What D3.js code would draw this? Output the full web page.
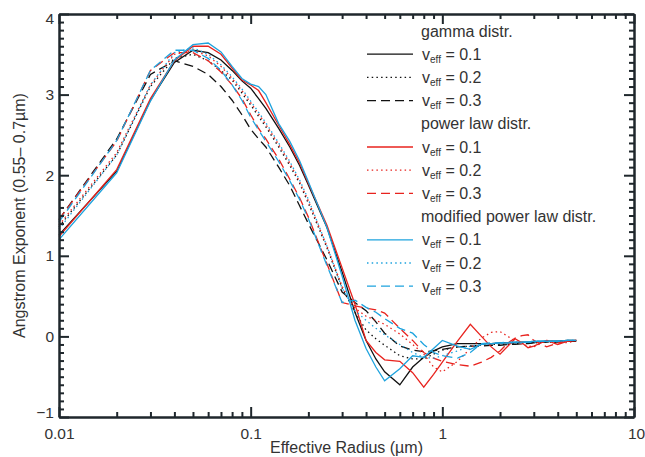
<!DOCTYPE html>
<html>
<head>
<meta charset="utf-8">
<title>Angstrom Exponent vs Effective Radius</title>
<script src="https://cdnjs.cloudflare.com/ajax/libs/d3/7.8.5/d3.min.js"></script>
<style>
  body { margin: 0; background: #fff; }
  svg text { font-family: "Liberation Sans", Arial, sans-serif; fill: #333; }
  .ax path, .ax line { stroke: #1f272c; stroke-width: 2; }
</style>
</head>
<body>
<svg id="chart" width="645" height="457"></svg>
<script>
// effective radius grid (µm)
const radii = [0.01,0.02,0.03,0.04,0.05,0.06,0.07,0.08,0.09,0.1,0.11,0.12,0.14,0.16,0.18,0.2,
  0.25,0.3,0.35,0.4,0.45,0.5,0.6,0.7,0.8,0.9,1.0,1.2,1.4,1.6,1.8,2.0,2.2,2.4,2.6,2.8,3.0,3.5,4.0,4.5,5.0];

// angstrom exponent
const gamma1 = [1.26,2.05,2.93,3.4,3.55,3.52,3.43,3.3,3.17,3.08,2.95,2.83,2.58,2.35,2.12,1.88,
  1.35,0.8,0.3,-0.05,-0.28,-0.44,-0.6,-0.38,-0.26,-0.18,-0.13,-0.09,-0.09,-0.09,-0.09,-0.08,-0.08,-0.08,-0.07,-0.07,-0.07,-0.06,-0.06,-0.05,-0.05];
const gamma2 = [1.36,2.25,3.1,3.45,3.5,3.42,3.3,3.18,3.02,2.87,2.73,2.6,2.35,2.12,1.9,1.65,
  1.1,0.6,0.3,0.08,-0.03,-0.11,-0.24,-0.28,-0.28,-0.22,-0.17,-0.13,-0.12,-0.11,-0.1,-0.1,-0.1,-0.09,-0.09,-0.08,-0.08,-0.07,-0.07,-0.06,-0.06];
const gamma3 = [1.45,2.45,3.25,3.42,3.35,3.25,3.1,2.93,2.75,2.57,2.45,2.35,2.1,1.87,1.62,1.4,
  0.95,0.55,0.42,0.32,0.18,0.04,-0.12,-0.17,-0.19,-0.18,-0.16,-0.13,-0.12,-0.12,-0.11,-0.11,-0.1,-0.1,-0.09,-0.09,-0.08,-0.07,-0.07,-0.06,-0.06];

const power1 = [1.24,2.07,2.95,3.42,3.6,3.6,3.5,3.33,3.18,3.12,3.05,2.9,2.62,2.38,2.15,1.9,
  1.38,0.85,0.4,-0.05,-0.2,-0.29,-0.31,-0.45,-0.63,-0.47,-0.32,-0.06,0.15,0.0,-0.13,-0.22,-0.12,-0.03,-0.08,-0.14,-0.12,-0.05,-0.1,-0.06,-0.05];
const power2 = [1.38,2.28,3.12,3.5,3.55,3.48,3.35,3.2,3.05,2.9,2.76,2.63,2.38,2.15,1.92,1.68,
  1.12,0.62,0.35,0.25,0.2,0.15,0.03,-0.1,-0.22,-0.38,-0.44,-0.31,-0.15,-0.02,0.05,0.06,0.0,-0.06,-0.1,-0.12,-0.13,-0.05,-0.06,-0.08,-0.05];
const power3 = [1.45,2.42,3.3,3.52,3.52,3.42,3.28,3.12,2.95,2.75,2.58,2.45,2.2,1.95,1.72,1.48,
  0.9,0.42,0.38,0.35,0.33,0.29,0.1,-0.05,-0.2,-0.27,-0.31,-0.35,-0.37,-0.32,-0.26,-0.18,-0.08,-0.02,0.01,0.02,-0.05,-0.13,-0.08,-0.06,-0.05];

const modified1 = [1.2,2.03,2.92,3.43,3.62,3.64,3.53,3.35,3.2,3.13,3.1,3.0,2.64,2.42,2.18,1.92,
  1.35,0.75,0.2,-0.15,-0.38,-0.55,-0.4,-0.24,-0.26,-0.15,-0.05,-0.12,-0.16,-0.1,-0.09,-0.08,-0.08,-0.07,-0.07,-0.07,-0.06,-0.06,-0.06,-0.05,-0.05];
const modified2 = [1.33,2.25,3.12,3.52,3.58,3.5,3.37,3.22,3.07,2.92,2.78,2.65,2.4,2.17,1.94,1.7,
  1.12,0.6,0.32,0.2,0.1,0.02,-0.1,-0.2,-0.26,-0.27,-0.24,-0.18,-0.12,-0.1,-0.09,-0.09,-0.08,-0.08,-0.08,-0.07,-0.07,-0.06,-0.06,-0.05,-0.05];
const modified3 = [1.42,2.43,3.3,3.55,3.55,3.45,3.3,3.12,2.93,2.72,2.56,2.42,2.17,1.93,1.7,1.46,
  0.88,0.42,0.45,0.36,0.3,0.22,0.1,0.04,-0.1,-0.2,-0.24,-0.27,-0.2,-0.09,-0.08,-0.08,-0.07,-0.07,-0.07,-0.07,-0.06,-0.06,-0.06,-0.05,-0.05];

const groupNames = ["gamma distr.", "power law distr.", "modified power law distr."];
const veffValues = ["0.1", "0.2", "0.3"];
const xTicks = [0.01, 0.1, 1, 10];
const yTicks = [-1, 0, 1, 2, 3, 4];

const series = [
  { g: 0, v: 0, values: gamma1 }, { g: 0, v: 1, values: gamma2 }, { g: 0, v: 2, values: gamma3 },
  { g: 1, v: 0, values: power1 }, { g: 1, v: 1, values: power2 }, { g: 1, v: 2, values: power3 },
  { g: 2, v: 0, values: modified1 }, { g: 2, v: 1, values: modified2 }, { g: 2, v: 2, values: modified3 }
];

const colors = ["#111111", "#e8231e", "#1ea3de"];
const dashes = [null, "1.5,3.2", "9,5"];

const svg = d3.select("#chart");
const L = 59, R = 634, T = 14, B = 417;

const x = d3.scaleLog().domain([0.01, 10]).range([L, R]);
const y = d3.scaleLinear().domain([-1, 4]).range([B, T]);

// minor ticks
const xMinor = [];
[0.01, 0.1, 1].forEach(d => { for (let k = 2; k <= 9; k++) xMinor.push(d * k); });
const yMinor = d3.range(-10, 41).map(i => i / 10).filter(v => Math.abs(v - Math.round(v)) > 1e-6);

const fmtY = d => d < 0 ? "\u2212" + Math.abs(d) : String(d);

// lines
const line = d3.line().x((d, i) => x(radii[i])).y(d => y(d));
svg.append("g").selectAll("path")
  .data(series)
  .join("path")
  .attr("d", d => line(d.values))
  .attr("fill", "none")
  .attr("stroke", d => colors[d.g])
  .attr("stroke-width", 1.3)
  .attr("stroke-dasharray", d => dashes[d.v]);

// axes
function addAxis(axis, tx, ty) {
  return svg.append("g").attr("class", "ax")
    .attr("transform", `translate(${tx},${ty})`)
    .call(axis);
}
addAxis(d3.axisBottom(x).tickValues(xMinor).tickSize(-5).tickSizeOuter(0).tickFormat(""), 0, B);
addAxis(d3.axisTop(x).tickValues(xMinor).tickSize(-5).tickSizeOuter(0).tickFormat(""), 0, T);
addAxis(d3.axisTop(x).tickValues(xTicks).tickSize(-10).tickSizeOuter(0).tickFormat(""), 0, T);
const xb = addAxis(d3.axisBottom(x).tickValues(xTicks).tickSize(-10).tickSizeOuter(0).tickPadding(11)
  .tickFormat(d => d3.format("~g")(d)), 0, B);

addAxis(d3.axisLeft(y).tickValues(yMinor).tickSize(-5).tickSizeOuter(0).tickFormat(""), L, 0);
addAxis(d3.axisRight(y).tickValues(yMinor).tickSize(-5).tickSizeOuter(0).tickFormat(""), R, 0);
addAxis(d3.axisRight(y).tickValues(yTicks).tickSize(-10).tickSizeOuter(0).tickFormat(""), R, 0);
const yl = addAxis(d3.axisLeft(y).tickValues(yTicks).tickSize(-10).tickSizeOuter(0).tickPadding(5).tickFormat(fmtY), L, 0);

svg.selectAll(".ax text").style("font-size", "15.5px").style("font-family", null).attr("fill", "#333");
// end labels sit inside the frame like the original
yl.selectAll(".tick").filter(d => d === 4).select("text").attr("dy", "0.62em");
yl.selectAll(".tick").filter(d => d === -1).select("text").attr("dy", "0.0em");
xb.selectAll(".tick").filter(d => d === 10).select("text").attr("dx", "2");

// titles
svg.append("text")
  .attr("x", (L + R) / 2).attr("y", 453)
  .attr("text-anchor", "middle").style("font-size", "16px")
  .text("Effective Radius (\u00b5m)");
svg.append("text")
  .attr("transform", `translate(25,${(T + B) / 2}) rotate(-90)`)
  .attr("text-anchor", "middle").style("font-size", "16px")
  .text("Angstrom Exponent (0.55\u2013 0.7\u00b5m)");

// legend
const rowY = i => 31 + 23.2 * i;
const leg = svg.append("g");
groupNames.forEach((name, g) => {
  const r0 = g * 4;
  leg.append("text").attr("x", 421).attr("y", rowY(r0)).attr("dy", "0.35em")
    .style("font-size", "16px").text(name);
  veffValues.forEach((val, v) => {
    const yy = rowY(r0 + 1 + v);
    leg.append("line")
      .attr("x1", 367).attr("x2", 413).attr("y1", yy).attr("y2", yy)
      .attr("stroke", colors[g]).attr("stroke-width", 1.3)
      .attr("stroke-dasharray", dashes[v]);
    const t = leg.append("text").attr("x", 422).attr("y", yy).attr("dy", "0.35em")
      .style("font-size", "16px");
    t.append("tspan").text("v");
    t.append("tspan").attr("dy", 3).style("font-size", "10px").text("eff");
    t.append("tspan").attr("dy", -3).text(" = " + val);
  });
});
</script>
</body>
</html>
